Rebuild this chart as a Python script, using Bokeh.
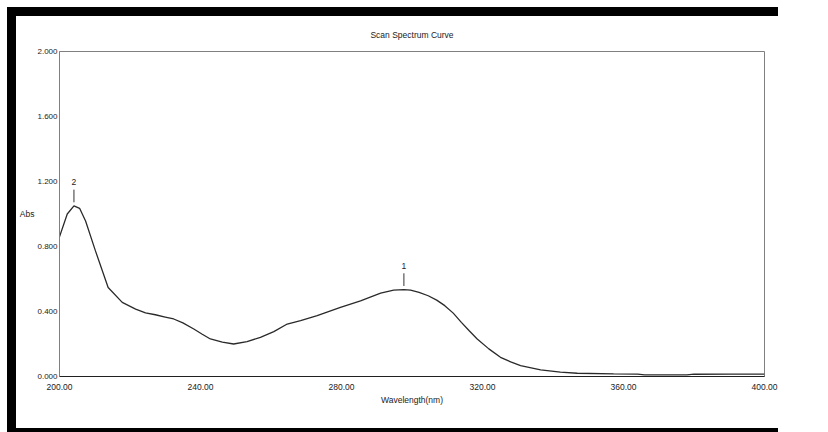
from bokeh.plotting import figure
from bokeh.layouts import column
from bokeh.models import (Range1d, FixedTicker, NumeralTickFormatter, ColumnDataSource)
from bokeh.core.properties import value
from bokeh.embed import file_html
from bokeh.resources import INLINE

# ---- data ----
wavelength = [200, 202.2, 204.1, 205.7, 207.4, 210.2, 213.8, 217.8, 221.6, 224.4,
              227.2, 230, 232.4, 235, 238.1, 240.5, 242.8, 246.2, 249.4, 253.2,
              257.0, 260.8, 264.6, 268.4, 273.1, 279.7, 285.4, 291.1, 294.8, 297.7,
              299.6, 302, 304.6, 307, 309.3, 311.7, 314.0, 316.3, 318.5, 321.8,
              325.1, 328, 330.8, 336.5, 342.1, 346.9, 357.2, 364, 366, 378,
              380, 390, 400]
absorbance = [0.86, 1.00, 1.05, 1.035, 0.957, 0.773, 0.548, 0.456, 0.415, 0.391,
              0.380, 0.366, 0.354, 0.33, 0.292, 0.26, 0.231, 0.211, 0.200, 0.215,
              0.241, 0.276, 0.323, 0.344, 0.374, 0.425, 0.466, 0.513, 0.532, 0.535,
              0.532, 0.518, 0.497, 0.47, 0.436, 0.39, 0.333, 0.28, 0.231, 0.17,
              0.118, 0.09, 0.067, 0.041, 0.027, 0.020, 0.016, 0.014, 0.010, 0.010,
              0.014, 0.015, 0.015]

peak_wl = [297.7, 204.1]
peak_abs = [0.535, 1.05]
peak_labels = ["1", "2"]

x_ticks = [200, 240, 280, 320, 360, 400]
y_ticks = [0.0, 0.4, 0.8, 1.2, 1.6, 2.0]

title_text = "Scan Spectrum Curve"
x_label = "Wavelength(nm)"
y_label = "Abs"

FONT = "Liberation Sans"
TXT = "#222222"

p = figure(width=762, height=412, output_backend="svg", toolbar_location=None,
           x_range=Range1d(200, 400), y_range=Range1d(0, 2.0),
           min_border_left=43, min_border_right=14, min_border_top=34,
           min_border_bottom=52, title=title_text)

p.background_fill_color = "white"
p.border_fill_color = "white"
p.outline_line_color = "#808080"
p.outline_line_width = 1
p.xgrid.visible = False
p.ygrid.visible = False

p.title.align = "center"
p.title.text_font = FONT
p.title.text_font_size = "8.5px"
p.title.text_font_style = "normal"
p.title.text_color = TXT
p.title.standoff = 23

for ax in (p.xaxis[0], p.yaxis[0]):
    ax.major_tick_out = 0
    ax.major_tick_in = 0
    ax.minor_tick_out = 0
    ax.minor_tick_in = 0
    ax.major_label_text_font = FONT
    ax.major_label_text_font_size = "8.5px"
    ax.major_label_text_color = TXT
    ax.axis_label_text_font = FONT
    ax.axis_label_text_font_size = "8.5px"
    ax.axis_label_text_font_style = "normal"
    ax.axis_label_text_color = TXT

p.xaxis.ticker = FixedTicker(ticks=x_ticks)
p.xaxis.formatter = NumeralTickFormatter(format="0.00")
p.xaxis.axis_line_color = "#202020"
p.xaxis.major_label_standoff = 7
p.xaxis.axis_label = x_label
p.xaxis.axis_label_standoff = 2

p.yaxis.ticker = FixedTicker(ticks=y_ticks)
p.yaxis.formatter = NumeralTickFormatter(format="0.000")
p.yaxis.axis_line_color = "#808080"
p.yaxis.major_label_text_font_size = "8px"
p.yaxis.major_label_standoff = 2
p.yaxis.axis_label = y_label
p.yaxis.axis_label_standoff = 0
yax = p.yaxis[0]
if "axis_label_orientation" in yax.properties():
    yax.axis_label_orientation = "horizontal"

src = ColumnDataSource(dict(x=wavelength, y=absorbance))
p.line("x", "y", source=src, line_color="#2a2a2a", line_width=1.3)

# peak markers
mk = ColumnDataSource(dict(x=peak_wl, y0=[a + 0.022 for a in peak_abs],
                           y1=[a + 0.10 for a in peak_abs],
                           ty=[a + 0.145 for a in peak_abs], t=peak_labels))
p.segment(x0="x", x1="x", y0="y0", y1="y1", source=mk, line_color="#333333", line_width=1)
p.text(x="x", y="ty", text="t", source=mk, text_align="center", text_baseline="middle",
       text_font=value(FONT), text_font_size="8.5px", text_color=TXT)

# black window frame around the chart (CSS borders of the enclosing layout)
layout = column(p, styles={"border-top": "9px solid black",
                           "border-left": "9px solid black",
                           "border-bottom": "4px solid black",
                           "margin-top": "7px", "margin-left": "7px"})

open("out.html", "w").write(file_html(layout, INLINE))
